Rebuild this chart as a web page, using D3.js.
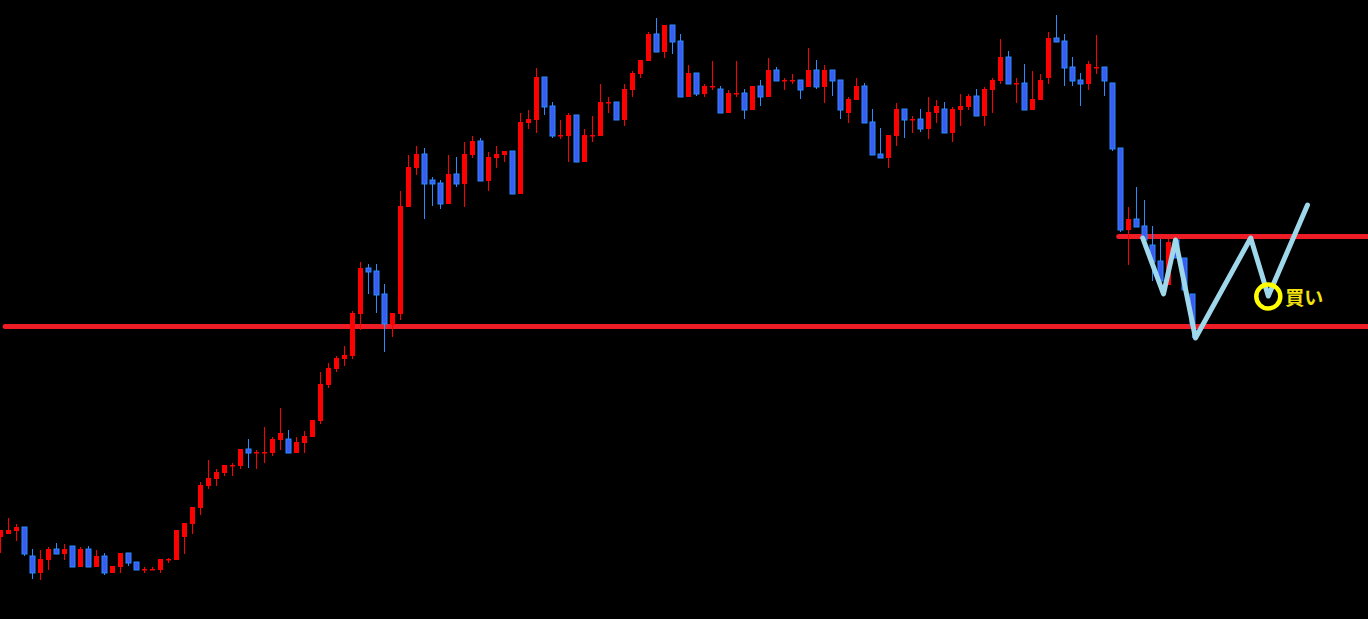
<!DOCTYPE html>
<html>
<head>
<meta charset="utf-8">
<script src="https://cdn.jsdelivr.net/npm/d3@7"></script>
<style>
  html, body { margin: 0; padding: 0; background: #000; overflow: hidden; }
</style>
</head>
<body>
<div id="chart"></div>
<script>
// candles (price units are arbitrary)
const open  = [83,86,89,93,64,47,60,71,66,74,53,71,53,64,47,53,67,58,51,51,50,61,60,83,96,112,134,141,147,155,
  154,171,168,168,167,180,181,167,177,183,199,235,251,261,264,306,352,349,326,295,306,413,452,466,440,437,416,446,436,465,
  479,439,462,465,469,426,497,500,543,514,485,484,505,458,485,484,518,518,500,530,546,559,586,568,595,579,523,547,526,534,
  531,507,527,527,510,534,523,550,540,540,540,533,550,533,550,540,507,520,534,498,466,462,484,511,501,501,491,507,511,487,
  510,513,524,504,530,539,563,537,537,510,520,542,582,579,553,540,536,553,553,537,472,390,401,394,375,359,335,380,362,326];
const high  = [90,102,96,93,71,70,73,77,76,74,73,74,70,67,54,67,67,58,53,53,61,62,90,97,113,138,160,151,155,157,
  171,181,170,193,183,212,190,183,189,200,248,257,264,274,309,358,356,356,336,307,429,465,474,472,443,440,465,463,478,484,
  482,468,474,469,469,507,510,552,543,518,500,507,505,491,504,536,523,518,536,549,560,588,602,595,595,586,555,547,536,559,
  534,530,559,531,534,540,562,553,542,546,540,572,560,555,550,540,523,542,537,511,492,485,517,511,504,511,523,520,518,513,
  526,526,531,533,542,581,569,542,556,549,546,588,605,586,563,547,559,585,553,537,472,413,433,420,394,381,381,380,362,326];
const low   = [67,86,79,64,41,40,50,66,60,53,53,53,53,45,47,47,54,50,47,50,47,57,60,66,86,105,131,134,144,144,
  151,152,151,157,164,170,167,167,167,183,196,232,248,254,261,290,326,307,268,283,300,413,445,401,414,411,416,433,413,462,
  439,429,452,458,426,426,491,487,505,482,481,458,458,458,478,484,507,500,494,523,542,559,568,562,566,523,523,524,523,530,
  507,507,523,501,510,514,523,539,530,536,521,533,531,517,524,501,497,520,497,465,462,452,474,482,487,488,481,497,487,478,
  494,510,504,494,507,536,536,517,510,510,520,536,578,534,534,514,530,546,524,469,388,355,393,380,339,330,335,362,330,282];
const close = [90,90,93,66,47,61,71,66,71,53,71,53,64,47,54,67,57,50,51,51,61,61,90,97,113,135,142,148,155,155,
  171,167,168,168,181,187,167,178,184,200,236,252,262,265,307,352,348,325,296,307,414,453,466,436,436,416,446,436,466,479,
  439,463,466,469,426,498,501,543,513,484,485,505,458,485,485,518,518,500,531,547,560,586,568,595,578,523,547,526,534,534,
  507,527,527,510,534,523,550,539,540,540,530,550,533,550,539,510,521,534,497,465,462,485,511,500,501,491,508,514,487,511,
  514,524,504,531,540,563,536,537,510,521,540,582,578,552,539,536,556,553,539,471,390,401,393,380,358,339,378,362,330,295];

// support / resistance levels and the drawn scenario
const levels = [
  { price: 293.5, from: 0.6 },
  { price: 383.5, from: 139.8 }
];
const zigzag = [[142.8,382],[145.4,326],[146.9,380],[149.4,282],[156.3,382],[158.5,324],[163.4,415]];
const buyPoint = [158.5, 323.5];
const buyLabel = "買い";

const width = 1368, height = 619;

const svg = d3.select("#chart")
  .append("svg")
  .attr("width", width)
  .attr("height", height)
  .style("background", "#000");

const x = d3.scaleLinear().domain([0, 149]).range([0.3, 1192.3]);
const y = d3.scaleLinear().domain([0, 620]).range([620, 0]);

const RED = "#ff0000", BLUE_FILL = "#3a5cf2", BLUE_EDGE = "#2a8cff";
const bodyW = 5;

const candles = open.map((o, i) => ({ i, o, h: high[i], l: low[i], c: close[i] }));
const isUp = d => d.c >= d.o;

// horizontal red lines sit behind the candles
svg.append("g")
  .selectAll("line")
  .data(levels)
  .enter()
  .append("line")
    .attr("x1", d => x(d.from))
    .attr("x2", width + 5)
    .attr("y1", d => y(d.price))
    .attr("y2", d => y(d.price))
    .attr("stroke", "#ee1c25")
    .attr("stroke-width", 5)
    .attr("stroke-linecap", "round");

const g = svg.append("g");

// wicks
g.selectAll(".wick")
  .data(candles)
  .enter()
  .append("line")
    .attr("class", "wick")
    .attr("x1", d => Math.round(x(d.i)) + 0.5)
    .attr("x2", d => Math.round(x(d.i)) + 0.5)
    .attr("y1", d => y(d.h))
    .attr("y2", d => y(d.l))
    .attr("stroke", d => isUp(d) ? RED : BLUE_EDGE)
    .attr("stroke-width", 1);

// bodies
g.selectAll(".body")
  .data(candles)
  .enter()
  .append("rect")
    .attr("class", "body")
    .attr("x", d => Math.round(x(d.i)) - 2)
    .attr("y", d => y(Math.max(d.o, d.c)))
    .attr("width", bodyW)
    .attr("height", d => Math.max(1.5, Math.abs(y(d.o) - y(d.c))))
    .attr("fill", d => isUp(d) ? RED : BLUE_FILL)
    .attr("stroke", d => isUp(d) ? "none" : BLUE_EDGE)
    .attr("stroke-width", 1);

// scenario zigzag
svg.append("path")
  .datum(zigzag)
  .attr("d", d3.line().x(d => x(d[0])).y(d => y(d[1])))
  .attr("fill", "none")
  .attr("stroke", "#9fd8ea")
  .attr("stroke-width", 5)
  .attr("stroke-linejoin", "round")
  .attr("stroke-linecap", "round");

// buy marker
svg.append("circle")
  .attr("cx", x(buyPoint[0]))
  .attr("cy", y(buyPoint[1]))
  .attr("r", 12)
  .attr("fill", "none")
  .attr("stroke", "#ffff00")
  .attr("stroke-width", 4.5);

svg.append("text")
  .attr("x", x(buyPoint[0]) + 17)
  .attr("y", y(buyPoint[1]) + 8)
  .attr("fill", "#f2e210")
  .attr("font-family", "'Noto Sans CJK JP', sans-serif")
  .attr("font-weight", "bold")
  .attr("font-size", 19)
  .text(buyLabel);
</script>
</body>
</html>
